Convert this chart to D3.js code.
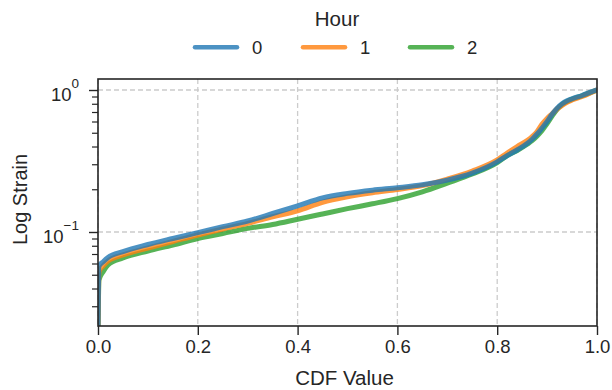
<!DOCTYPE html>
<html><head><meta charset="utf-8">
<script src="https://cdn.jsdelivr.net/npm/d3@7"></script>
<style>body{margin:0;background:#fff}svg{display:block}text{font-family:"Liberation Sans",Arial,sans-serif;fill:#262626}</style>
</head><body><svg id="c" width="612" height="390"></svg>
<script>
const cdf   = [0, 0.002, 0.01, 0.02, 0.05, 0.1, 0.15, 0.2, 0.25, 0.3, 0.35, 0.4, 0.45, 0.5, 0.55, 0.6, 0.65, 0.7, 0.75, 0.8, 0.82, 0.84, 0.86, 0.87, 0.88, 0.89, 0.9, 0.91, 0.92, 0.93, 0.94, 0.95, 0.97, 0.99, 1.0];
const hour0 = [0.02, 0.0576, 0.0615, 0.0661, 0.0727, 0.0816, 0.090, 0.0989, 0.109, 0.1195, 0.135, 0.153, 0.174, 0.187, 0.197, 0.205, 0.215, 0.232, 0.260, 0.312, 0.345, 0.378, 0.42, 0.45, 0.49, 0.54, 0.60, 0.675, 0.745, 0.80, 0.84, 0.868, 0.915, 0.975, 1.0];
const hour1 = [0.02, 0.0523, 0.0577, 0.0625, 0.0689, 0.0771, 0.0857, 0.0953, 0.105, 0.115, 0.128, 0.141, 0.162, 0.177, 0.189, 0.199, 0.212, 0.236, 0.269, 0.322, 0.36, 0.40, 0.44, 0.47, 0.51, 0.575, 0.63, 0.68, 0.735, 0.78, 0.82, 0.85, 0.90, 0.965, 1.0];
const hour2 = [0.02, 0.0459, 0.0523, 0.0586, 0.0656, 0.0735, 0.081, 0.090, 0.0976, 0.106, 0.113, 0.123, 0.134, 0.146, 0.158, 0.172, 0.192, 0.221, 0.256, 0.308, 0.345, 0.375, 0.415, 0.44, 0.475, 0.52, 0.58, 0.655, 0.73, 0.79, 0.83, 0.862, 0.91, 0.97, 1.0];
const seriesNames = ["0", "1", "2"];
const seriesValues = [hour0, hour1, hour2];
const colors = ["#1f77b4", "#ff7f0e", "#2ca02c"];
const xTicks = [0, 0.2, 0.4, 0.6, 0.8, 1.0];
const yMajor = [1, 0.1];

const svg = d3.select("#c");
const L = 98, R = 597, T = 79, B = 326;
const x = d3.scaleLinear().domain([0, 1]).range([L, R]);
const y = d3.scaleLog().domain([Math.pow(10, -1.662), Math.pow(10, 0.0775)]).range([B, T]);

// grid
const g = svg.append("g");
xTicks.forEach(t => g.append("line").attr("x1", x(t)).attr("x2", x(t)).attr("y1", T).attr("y2", B)
  .attr("stroke", "#cccccc").attr("stroke-width", 1.3).attr("stroke-dasharray", "5,3"));
yMajor.forEach(t => g.append("line").attr("x1", L).attr("x2", R).attr("y1", y(t)).attr("y2", y(t))
  .attr("stroke", "#cccccc").attr("stroke-width", 1.3).attr("stroke-dasharray", "5,3"));

svg.append("clipPath").attr("id", "clip").append("rect").attr("x", L).attr("y", T).attr("width", R - L).attr("height", B - T);

const line = d3.line().curve(d3.curveMonotoneX).x(d => x(d[0])).y(d => y(d[1]));
const plot = svg.append("g").attr("clip-path", "url(#clip)");
[2, 1, 0].forEach(i => {
  plot.append("path").datum(cdf.map((c, j) => [c, seriesValues[i][j]]))
    .attr("d", line).attr("fill", "none").attr("stroke", colors[i]).attr("stroke-opacity", 0.8)
    .attr("stroke-width", 5).attr("stroke-linejoin", "round");
});

// axes
const xAxis = d3.axisBottom(x).tickValues(xTicks).tickFormat(d3.format(".1f")).tickSize(9).tickPadding(5);
const xg = svg.append("g").attr("transform", `translate(0,${B})`).call(xAxis);
xg.select(".domain").remove();
xg.selectAll("line").attr("stroke", "#262626").attr("stroke-width", 1.4);
xg.selectAll("text").attr("font-size", 18.5).attr("fill", "#262626").attr("font-family", '"Liberation Sans",Arial,sans-serif');

const minor = [];
[0.01, 0.1].forEach(d => { for (let k = 2; k <= 9; k++) { const v = d * k; if (v >= y.domain()[0] && v <= y.domain()[1]) minor.push(v); } });
const yAxis = d3.axisLeft(y).tickValues(minor).tickFormat("").tickSize(6);
const yg = svg.append("g").attr("transform", `translate(${L},0)`).call(yAxis);
yg.select(".domain").remove();
yg.selectAll("line").attr("stroke", "#262626").attr("stroke-width", 1.2);
const yAxisMaj = d3.axisLeft(y).tickValues(yMajor).tickFormat("").tickSize(9);
const ygm = svg.append("g").attr("transform", `translate(${L},0)`).call(yAxisMaj);
ygm.select(".domain").remove();
ygm.selectAll("line").attr("stroke", "#262626").attr("stroke-width", 1.4);
yMajor.forEach(t => {
  const e = Math.round(Math.log10(t));
  const tx = svg.append("text").attr("x", 79).attr("y", y(t) + 11).attr("text-anchor", "end").attr("font-size", 18.5);
  tx.append("tspan").text("10");
  tx.append("tspan").attr("dy", -13).attr("font-size", 13.5).text(e < 0 ? "\u2212" + (-e) : String(e));
});

// frame
svg.append("rect").attr("x", L).attr("y", T).attr("width", R - L).attr("height", B - T)
  .attr("fill", "none").attr("stroke", "#262626").attr("stroke-width", 1.6);

// labels
svg.append("text").attr("x", (L + R) / 2 - 3).attr("y", 385).attr("text-anchor", "middle").attr("font-size", 20.5).text("CDF Value");
svg.append("text").attr("transform", `translate(26.5,${(T + B) / 2 - 3}) rotate(-90)`).attr("text-anchor", "middle").attr("font-size", 20).text("Log Strain");

// legend
svg.append("text").attr("x", 337).attr("y", 25.5).attr("text-anchor", "middle").attr("font-size", 20.5).text("Hour");
const legX = [195, 303, 410];
seriesNames.forEach((n, i) => {
  svg.append("line").attr("x1", legX[i]).attr("x2", legX[i] + 42).attr("y1", 47.3).attr("y2", 47.3)
    .attr("stroke", colors[i]).attr("stroke-opacity", 0.8).attr("stroke-width", 4.5).attr("stroke-linecap", "round");
  svg.append("text").attr("x", legX[i] + 57).attr("y", 54).attr("font-size", 18.5).text(n);
});
</script></body></html>
